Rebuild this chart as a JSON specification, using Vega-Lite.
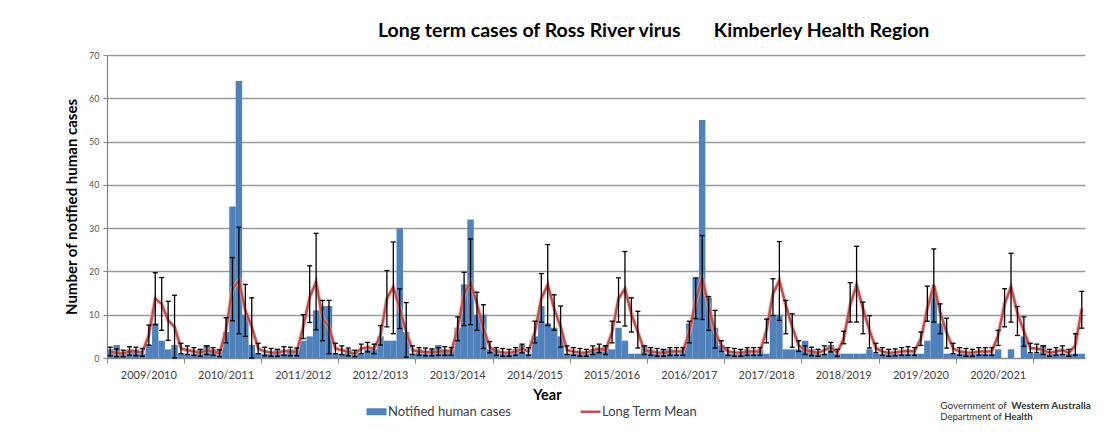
{
  "$schema": "https://vega.github.io/schema/vega-lite/v6.json",
  "width": 978,
  "height": 303,
  "autosize": "none",
  "padding": {"left": 107, "top": 55, "right": 20, "bottom": 81},
  "background": "white",
  "config": {"font": "Lato", "view": {"stroke": null}},
  "title": {
    "text": "Long term cases of Ross River virus\u00a0\u00a0\u00a0\u00a0\u00a0\u00a0\u00a0Kimberley Health Region",
    "anchor": "start",
    "frame": "group",
    "dx": 271,
    "offset": 10,
    "font": "Lato",
    "fontSize": 19.5,
    "fontWeight": "bold",
    "color": "#000000"
  },
  "data": {"values": [
    {"m":"2009-07","cases":2,"mean":1.5,"lo":0.5,"hi":2.5},
    {"m":"2009-08","cases":3,"mean":1.2,"lo":0.3,"hi":2.1},
    {"m":"2009-09","cases":1,"mean":1.0,"lo":0.3,"hi":1.8},
    {"m":"2009-10","cases":2,"mean":1.6,"lo":0.6,"hi":2.6},
    {"m":"2009-11","cases":2,"mean":1.5,"lo":0.5,"hi":2.5},
    {"m":"2009-12","cases":1,"mean":1.3,"lo":0.4,"hi":2.2},
    {"m":"2010-01","cases":3,"mean":5.3,"lo":3.0,"hi":7.6},
    {"m":"2010-02","cases":8,"mean":13.7,"lo":7.7,"hi":19.7},
    {"m":"2010-03","cases":4,"mean":12.5,"lo":6.4,"hi":18.6},
    {"m":"2010-04","cases":2,"mean":8.7,"lo":4.1,"hi":13.1},
    {"m":"2010-05","cases":3,"mean":7.2,"lo":0,"hi":14.5},
    {"m":"2010-06","cases":1,"mean":2.2,"lo":1.0,"hi":3.4},
    {"m":"2010-07","cases":1,"mean":1.8,"lo":0.8,"hi":2.8},
    {"m":"2010-08","cases":1,"mean":1.5,"lo":0.6,"hi":2.4},
    {"m":"2010-09","cases":2,"mean":1.2,"lo":0.4,"hi":2.0},
    {"m":"2010-10","cases":3,"mean":1.8,"lo":0.8,"hi":2.8},
    {"m":"2010-11","cases":2,"mean":1.5,"lo":0.6,"hi":2.4},
    {"m":"2010-12","cases":2,"mean":1.1,"lo":0.3,"hi":1.9},
    {"m":"2011-01","cases":6,"mean":6.4,"lo":3.5,"hi":9.3},
    {"m":"2011-02","cases":35,"mean":16,"lo":8.6,"hi":23.2},
    {"m":"2011-03","cases":64,"mean":17.9,"lo":5.6,"hi":30.2},
    {"m":"2011-04","cases":10,"mean":11,"lo":5,"hi":17},
    {"m":"2011-05","cases":3,"mean":7.2,"lo":0,"hi":13.9},
    {"m":"2011-06","cases":1,"mean":2.2,"lo":1,"hi":3.4},
    {"m":"2011-07","cases":1,"mean":1.5,"lo":0.5,"hi":2.5},
    {"m":"2011-08","cases":1,"mean":1.3,"lo":0.4,"hi":2.2},
    {"m":"2011-09","cases":2,"mean":1.2,"lo":0.4,"hi":2.0},
    {"m":"2011-10","cases":1,"mean":1.6,"lo":0.6,"hi":2.6},
    {"m":"2011-11","cases":2,"mean":1.5,"lo":0.5,"hi":2.5},
    {"m":"2011-12","cases":2,"mean":1.4,"lo":0.5,"hi":2.3},
    {"m":"2012-01","cases":4,"mean":7.2,"lo":4.5,"hi":10},
    {"m":"2012-02","cases":5,"mean":14,"lo":8.2,"hi":21.3},
    {"m":"2012-03","cases":11,"mean":17.6,"lo":6.5,"hi":28.8},
    {"m":"2012-04","cases":12,"mean":9.1,"lo":4,"hi":13.3},
    {"m":"2012-05","cases":12,"mean":7.2,"lo":1,"hi":13.3},
    {"m":"2012-06","cases":1,"mean":2.2,"lo":1,"hi":3.4},
    {"m":"2012-07","cases":1,"mean":1.8,"lo":0.8,"hi":2.8},
    {"m":"2012-08","cases":2,"mean":1.4,"lo":0.5,"hi":2.3},
    {"m":"2012-09","cases":1,"mean":1.0,"lo":0.3,"hi":1.8},
    {"m":"2012-10","cases":1,"mean":2.1,"lo":1,"hi":3.2},
    {"m":"2012-11","cases":2,"mean":2.5,"lo":1.4,"hi":3.6},
    {"m":"2012-12","cases":2,"mean":2.1,"lo":1,"hi":3.2},
    {"m":"2013-01","cases":5,"mean":5.2,"lo":3,"hi":7.5},
    {"m":"2013-02","cases":4,"mean":13.7,"lo":7.2,"hi":20.2},
    {"m":"2013-03","cases":4,"mean":16.4,"lo":5.6,"hi":26.8},
    {"m":"2013-04","cases":30,"mean":11.4,"lo":6.8,"hi":16},
    {"m":"2013-05","cases":6,"mean":6,"lo":0.2,"hi":12.8},
    {"m":"2013-06","cases":1,"mean":1.8,"lo":0.8,"hi":2.8},
    {"m":"2013-07","cases":2,"mean":1.5,"lo":0.6,"hi":2.4},
    {"m":"2013-08","cases":1,"mean":1.4,"lo":0.5,"hi":2.3},
    {"m":"2013-09","cases":2,"mean":1.3,"lo":0.5,"hi":2.1},
    {"m":"2013-10","cases":3,"mean":1.5,"lo":0.6,"hi":2.4},
    {"m":"2013-11","cases":2,"mean":1.6,"lo":0.6,"hi":2.6},
    {"m":"2013-12","cases":2,"mean":1.5,"lo":0.6,"hi":2.4},
    {"m":"2014-01","cases":7,"mean":6.8,"lo":4,"hi":9.5},
    {"m":"2014-02","cases":17,"mean":14.8,"lo":7.5,"hi":19.8},
    {"m":"2014-03","cases":32,"mean":17.5,"lo":7.7,"hi":27.5},
    {"m":"2014-04","cases":10,"mean":12.5,"lo":6.4,"hi":15.2},
    {"m":"2014-05","cases":10,"mean":6.8,"lo":2.2,"hi":12.3},
    {"m":"2014-06","cases":2,"mean":2.5,"lo":1.2,"hi":3.8},
    {"m":"2014-07","cases":2,"mean":1.5,"lo":0.6,"hi":2.4},
    {"m":"2014-08","cases":1,"mean":1.3,"lo":0.4,"hi":2.2},
    {"m":"2014-09","cases":1,"mean":1.2,"lo":0.4,"hi":2.0},
    {"m":"2014-10","cases":2,"mean":1.5,"lo":0.6,"hi":2.4},
    {"m":"2014-11","cases":3,"mean":2.2,"lo":1.2,"hi":3.2},
    {"m":"2014-12","cases":1,"mean":1.5,"lo":0.6,"hi":2.4},
    {"m":"2015-01","cases":5,"mean":6,"lo":3.5,"hi":8.5},
    {"m":"2015-02","cases":12,"mean":13.7,"lo":8.3,"hi":19.5},
    {"m":"2015-03","cases":8,"mean":16.9,"lo":7.5,"hi":26.2},
    {"m":"2015-04","cases":7,"mean":11.4,"lo":6.4,"hi":14.6},
    {"m":"2015-05","cases":5,"mean":7.2,"lo":2.5,"hi":12},
    {"m":"2015-06","cases":1,"mean":1.8,"lo":0.8,"hi":2.8},
    {"m":"2015-07","cases":1,"mean":1.5,"lo":0.6,"hi":2.4},
    {"m":"2015-08","cases":1,"mean":1.3,"lo":0.4,"hi":2.2},
    {"m":"2015-09","cases":1,"mean":1.2,"lo":0.4,"hi":2.0},
    {"m":"2015-10","cases":2,"mean":1.8,"lo":0.8,"hi":2.8},
    {"m":"2015-11","cases":2,"mean":2.2,"lo":1.2,"hi":3.2},
    {"m":"2015-12","cases":3,"mean":1.8,"lo":0.8,"hi":2.8},
    {"m":"2016-01","cases":2,"mean":6,"lo":3.5,"hi":8.5},
    {"m":"2016-02","cases":7,"mean":13.7,"lo":8.3,"hi":18.5},
    {"m":"2016-03","cases":4,"mean":16,"lo":7.4,"hi":24.6},
    {"m":"2016-04","cases":1,"mean":10.2,"lo":6,"hi":13.9},
    {"m":"2016-05","cases":1,"mean":6,"lo":2.3,"hi":10.8},
    {"m":"2016-06","cases":3,"mean":1.8,"lo":0.8,"hi":2.8},
    {"m":"2016-07","cases":2,"mean":1.5,"lo":0.6,"hi":2.4},
    {"m":"2016-08","cases":1,"mean":1.3,"lo":0.4,"hi":2.2},
    {"m":"2016-09","cases":2,"mean":1.2,"lo":0.4,"hi":2.0},
    {"m":"2016-10","cases":2,"mean":1.5,"lo":0.6,"hi":2.4},
    {"m":"2016-11","cases":1,"mean":1.5,"lo":0.6,"hi":2.4},
    {"m":"2016-12","cases":2,"mean":1.5,"lo":0.6,"hi":2.4},
    {"m":"2017-01","cases":8,"mean":6,"lo":3.5,"hi":8.5},
    {"m":"2017-02","cases":18.5,"mean":13.3,"lo":9.1,"hi":18.5},
    {"m":"2017-03","cases":55,"mean":18.5,"lo":8.9,"hi":28.3},
    {"m":"2017-04","cases":14,"mean":12.2,"lo":6.4,"hi":14.2},
    {"m":"2017-05","cases":7,"mean":6,"lo":2.3,"hi":11},
    {"m":"2017-06","cases":3,"mean":2.9,"lo":1.5,"hi":4},
    {"m":"2017-07","cases":1,"mean":1.5,"lo":0.6,"hi":2.4},
    {"m":"2017-08","cases":1,"mean":1.3,"lo":0.4,"hi":2.2},
    {"m":"2017-09","cases":1,"mean":1.2,"lo":0.4,"hi":2.0},
    {"m":"2017-10","cases":2,"mean":1.5,"lo":0.6,"hi":2.4},
    {"m":"2017-11","cases":1,"mean":1.5,"lo":0.6,"hi":2.4},
    {"m":"2017-12","cases":2,"mean":1.5,"lo":0.6,"hi":2.4},
    {"m":"2018-01","cases":1,"mean":6.4,"lo":3.5,"hi":9},
    {"m":"2018-02","cases":10,"mean":14.8,"lo":9.8,"hi":18.3},
    {"m":"2018-03","cases":10,"mean":17.9,"lo":8.7,"hi":26.9},
    {"m":"2018-04","cases":2,"mean":12.2,"lo":5.6,"hi":13.3},
    {"m":"2018-05","cases":2,"mean":7.2,"lo":2.5,"hi":10.2},
    {"m":"2018-06","cases":2,"mean":2.9,"lo":1.5,"hi":4},
    {"m":"2018-07","cases":4,"mean":1.8,"lo":0.8,"hi":2.8},
    {"m":"2018-08","cases":2,"mean":1.5,"lo":0.5,"hi":2.5},
    {"m":"2018-09","cases":1,"mean":1.2,"lo":0.4,"hi":2.0},
    {"m":"2018-10","cases":1,"mean":1.8,"lo":0.8,"hi":2.8},
    {"m":"2018-11","cases":3,"mean":2.5,"lo":1.4,"hi":3.6},
    {"m":"2018-12","cases":1,"mean":1.2,"lo":0.4,"hi":2.0},
    {"m":"2019-01","cases":1,"mean":4.5,"lo":3.3,"hi":6.2},
    {"m":"2019-02","cases":1,"mean":12.2,"lo":8.3,"hi":17.4},
    {"m":"2019-03","cases":1,"mean":16.9,"lo":8.3,"hi":25.8},
    {"m":"2019-04","cases":1,"mean":11.4,"lo":5.6,"hi":12.9},
    {"m":"2019-05","cases":2,"mean":6.4,"lo":2.3,"hi":9.8},
    {"m":"2019-06","cases":1,"mean":2.3,"lo":1.2,"hi":3.4},
    {"m":"2019-07","cases":1,"mean":1.5,"lo":0.6,"hi":2.4},
    {"m":"2019-08","cases":1,"mean":1.2,"lo":0.4,"hi":2.0},
    {"m":"2019-09","cases":1,"mean":1.3,"lo":0.5,"hi":2.1},
    {"m":"2019-10","cases":1,"mean":1.5,"lo":0.6,"hi":2.4},
    {"m":"2019-11","cases":1,"mean":1.6,"lo":0.6,"hi":2.6},
    {"m":"2019-12","cases":1,"mean":1.5,"lo":0.6,"hi":2.4},
    {"m":"2020-01","cases":1,"mean":4.5,"lo":2.9,"hi":6},
    {"m":"2020-02","cases":4,"mean":11.4,"lo":8.5,"hi":16.6},
    {"m":"2020-03","cases":15,"mean":16.9,"lo":8.3,"hi":25.2},
    {"m":"2020-04","cases":8,"mean":10.6,"lo":5.6,"hi":12.5},
    {"m":"2020-05","cases":1,"mean":5.8,"lo":2.3,"hi":9.2},
    {"m":"2020-06","cases":1,"mean":2.2,"lo":1,"hi":3.4},
    {"m":"2020-07","cases":1,"mean":1.5,"lo":0.6,"hi":2.4},
    {"m":"2020-08","cases":1,"mean":1.3,"lo":0.4,"hi":2.2},
    {"m":"2020-09","cases":1,"mean":1.2,"lo":0.4,"hi":2.0},
    {"m":"2020-10","cases":1,"mean":1.5,"lo":0.6,"hi":2.4},
    {"m":"2020-11","cases":1,"mean":1.5,"lo":0.6,"hi":2.4},
    {"m":"2020-12","cases":1,"mean":1.5,"lo":0.6,"hi":2.4},
    {"m":"2021-01","cases":2,"mean":5.2,"lo":2.9,"hi":6.4},
    {"m":"2021-02","cases":0,"mean":12.5,"lo":7.2,"hi":16},
    {"m":"2021-03","cases":2,"mean":16.4,"lo":8.3,"hi":24.2},
    {"m":"2021-04","cases":0,"mean":10.4,"lo":5.2,"hi":11.9},
    {"m":"2021-05","cases":5,"mean":6.2,"lo":2.7,"hi":9.5},
    {"m":"2021-06","cases":1,"mean":2.3,"lo":1.2,"hi":3.4},
    {"m":"2021-07","cases":1,"mean":2.2,"lo":1.2,"hi":3.2},
    {"m":"2021-08","cases":3,"mean":1.8,"lo":0.8,"hi":2.8},
    {"m":"2021-09","cases":1,"mean":1.2,"lo":0.4,"hi":2.0},
    {"m":"2021-10","cases":1,"mean":1.5,"lo":0.6,"hi":2.4},
    {"m":"2021-11","cases":1,"mean":1.8,"lo":0.8,"hi":2.8},
    {"m":"2021-12","cases":1,"mean":1.2,"lo":0.4,"hi":2.0},
    {"m":"2022-01","cases":1,"mean":2.9,"lo":0.6,"hi":5.6},
    {"m":"2022-02","cases":1,"mean":11.4,"lo":6.9,"hi":15.4}
  ]},
  "encoding": {
    "x": {
      "field": "m",
      "type": "ordinal",
      "sort": null,
      "scale": {"paddingInner": 0, "paddingOuter": 0},
      "axis": {
        "title": "Year",
        "titleFont": "Lato",
        "titleFontSize": 14.5,
        "titleFontWeight": "bold",
        "titleColor": "#000000",
        "titlePadding": 8,
        "titleX": 440,
        "bandPosition": 0,
        "values": ["2009-07","2010-01","2010-07","2011-01","2011-07","2012-01","2012-07","2013-01","2013-07","2014-01","2014-07","2015-01","2015-07","2016-01","2016-07","2017-01","2017-07","2018-01","2018-07","2019-01","2019-07","2020-01","2020-07","2021-01","2021-07"],
        "labelExpr": "slice(datum.value,5)=='01' ? (toNumber(slice(datum.value,0,4))-1) + '/' + slice(datum.value,0,4) : ''",
        "labelAngle": 0,
        "labelAlign": "center",
        "labelOverlap": false,
        "labelFont": "Lato",
        "labelFontSize": 11,
        "labelColor": "#404040",
        "labelPadding": 6,
        "tickSize": 5,
        "tickColor": "#868686",
        "tickOpacity": {"condition": {"test": "slice(datum.value,5)=='01'", "value": 0}, "value": 1},
        "domainColor": "#868686",
        "domainWidth": 1.2,
        "grid": false
      }
    }
  },
  "layer": [
    {
      "mark": {"type": "bar", "color": "#4f81bd"},
      "encoding": {
        "y": {
          "field": "cases",
          "type": "quantitative",
          "scale": {"domain": [0, 70], "nice": false},
          "axis": {
            "title": "Number of notified human cases",
            "titleFont": "Lato",
            "titleFontSize": 15,
            "titleFontWeight": "bold",
            "titleColor": "#000000",
            "titlePadding": 9,
            "values": [0, 10, 20, 30, 40, 50, 60, 70],
            "labelFont": "Lato",
            "labelFontSize": 9,
            "labelColor": "#595959",
            "labelPadding": 4,
            "tickSize": 4,
            "tickColor": "#868686",
            "domainColor": "#868686",
            "domainWidth": 1.2,
            "grid": true,
            "gridColor": "#9a9a9a",
            "gridWidth": 1.3
          }
        },
        "color": {
          "datum": "Notified human cases",
          "scale": {"domain": ["Notified human cases", "Long Term Mean"], "range": ["#4f81bd", "#c0504d"]},
          "legend": {
            "title": null,
            "orient": "none",
            "legendX": 263,
            "legendY": 350,
            "direction": "horizontal",
            "columns": 2,
            "columnPadding": 64,
            "padding": 0,
            "symbolSize": 400,
            "labelOffset": 5,
            "labelFont": "Lato",
            "labelFontSize": 13,
            "labelColor": "#404040",
            "encode": {
              "symbols": {
                "update": {
                  "shape": {"signal": "datum.value == 'Long Term Mean' ? 'M-1,0H1' : 'M-1,-0.35H1V0.35H-1Z'"},
                  "fill": {"signal": "datum.value == 'Long Term Mean' ? 'transparent' : '#4f81bd'"},
                  "stroke": {"signal": "datum.value == 'Long Term Mean' ? '#c0504d' : '#4f81bd'"},
                  "strokeWidth": {"signal": "datum.value == 'Long Term Mean' ? 2.5 : 0"},
                  "opacity": {"value": 1}
                }
              }
            }
          }
        }
      }
    },
    {
      "mark": {"type": "line", "color": "#e3a9a7", "strokeWidth": 4.5, "opacity": 0.6},
      "encoding": {"y": {"field": "mean", "type": "quantitative"}}
    },
    {
      "mark": {"type": "line", "strokeWidth": 2.4},
      "encoding": {
        "y": {"field": "mean", "type": "quantitative"},
        "color": {"datum": "Long Term Mean"}
      }
    },
    {
      "mark": {"type": "rule", "color": "#000000", "strokeWidth": 1.3},
      "encoding": {
        "y": {"field": "lo", "type": "quantitative"},
        "y2": {"field": "hi"}
      }
    },
    {
      "mark": {"type": "tick", "color": "#000000", "size": 5, "thickness": 1.3, "opacity": 1},
      "encoding": {"y": {"field": "lo", "type": "quantitative"}}
    },
    {
      "mark": {"type": "tick", "color": "#000000", "size": 5, "thickness": 1.3, "opacity": 1},
      "encoding": {"y": {"field": "hi", "type": "quantitative"}}
    },
    {
      "data": {"values": [{"line": "Government of"}]},
      "mark": {"type": "text", "align": "left", "baseline": "middle", "font": "Lato", "fontSize": 10, "color": "#333333"},
      "encoding": {
        "x": {"datum": "2020-04"},
        "y": {"datum": -11.1},
        "text": {"field": "line"}
      }
    },
    {
      "data": {"values": [{"line": "Western Australia"}]},
      "mark": {"type": "text", "align": "left", "baseline": "middle", "font": "Lato", "fontSize": 10, "fontWeight": "bold", "color": "#333333", "dx": 71},
      "encoding": {
        "x": {"datum": "2020-04"},
        "y": {"datum": -11.1},
        "text": {"field": "line"}
      }
    },
    {
      "data": {"values": [{"line": "Department of"}]},
      "mark": {"type": "text", "align": "left", "baseline": "middle", "font": "Lato", "fontSize": 9.5, "color": "#333333"},
      "encoding": {
        "x": {"datum": "2020-04"},
        "y": {"datum": -13.7},
        "text": {"field": "line"}
      }
    },
    {
      "data": {"values": [{"line": "Health"}]},
      "mark": {"type": "text", "align": "left", "baseline": "middle", "font": "Lato", "fontSize": 9.5, "fontWeight": "bold", "color": "#333333", "dx": 64},
      "encoding": {
        "x": {"datum": "2020-04"},
        "y": {"datum": -13.7},
        "text": {"field": "line"}
      }
    }
  ]
}
